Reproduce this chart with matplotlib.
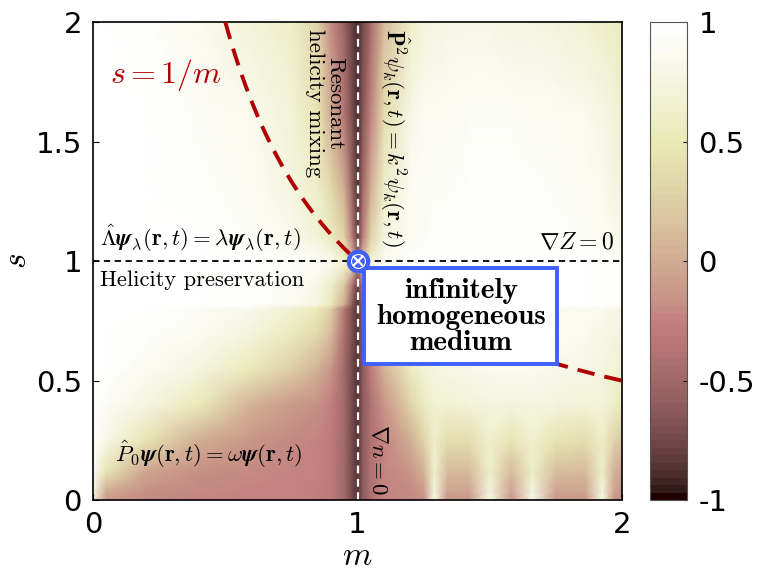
import numpy as np
import matplotlib
matplotlib.use("Agg")
import matplotlib.pyplot as plt

plt.rcParams['mathtext.fontset'] = 'cm'
plt.rcParams['font.family'] = 'DejaVu Sans'

# sample nodes of the map (m across, s up)
m_nodes = [0, 0.05, 0.2, 0.4, 0.6, 0.75, 0.85, 0.9, 0.95, 0.98, 1.0, 1.02, 1.05,
           1.1, 1.2, 1.25, 1.29, 1.34, 1.42, 1.5, 1.58, 1.66, 1.75, 1.86, 1.925, 1.97, 2.0]
s_nodes = [0, 0.04, 0.12, 0.25, 0.4, 0.55, 0.7, 0.8, 0.82, 0.9, 0.97, 1.0, 1.03,
           1.1, 1.3, 1.6, 2.0]

# normalised value at each (s, m) node, one row per s
values = [
    [0.6, -0.1, -0.2, -0.22, -0.25, -0.25, -0.28, -0.3, -0.5, -0.72, -0.85, -0.62, -0.4, -0.25, -0.2, -0.18, 0.8, -0.15, -0.15, 0.8, -0.15, 0.8, -0.15, -0.15, 0.8, -0.15, -0.2],
    [0.8, 0.0, -0.18, -0.2, -0.22, -0.25, -0.28, -0.3, -0.5, -0.72, -0.85, -0.62, -0.4, -0.25, -0.2, -0.1, 0.72, -0.05, -0.05, 0.72, -0.05, 0.72, -0.05, -0.05, 0.72, -0.05, -0.15],
    [0.92, 0.45, -0.05, -0.18, -0.2, -0.22, -0.25, -0.3, -0.5, -0.72, -0.85, -0.62, -0.4, -0.25, -0.15, 0.05, 0.65, 0.1, 0.12, 0.65, 0.12, 0.62, 0.15, 0.1, 0.6, 0.05, -0.05],
    [0.97, 0.8, 0.45, 0.0, -0.15, -0.2, -0.22, -0.3, -0.5, -0.72, -0.85, -0.62, -0.4, -0.25, 0.0, 0.3, 0.62, 0.4, 0.4, 0.65, 0.45, 0.65, 0.45, 0.4, 0.6, 0.3, 0.2],
    [0.99, 0.92, 0.75, 0.5, 0.05, -0.1, -0.18, -0.28, -0.5, -0.72, -0.85, -0.62, -0.38, -0.15, 0.3, 0.55, 0.68, 0.68, 0.7, 0.75, 0.72, 0.75, 0.72, 0.7, 0.7, 0.6, 0.5],
    [1.0, 0.97, 0.9, 0.75, 0.5, 0.25, 0.05, -0.15, -0.48, -0.72, -0.85, -0.6, -0.3, 0.05, 0.55, 0.7, 0.78, 0.8, 0.83, 0.85, 0.85, 0.85, 0.83, 0.8, 0.75, 0.7, 0.65],
    [1.0, 0.99, 0.96, 0.88, 0.72, 0.55, 0.35, 0.1, -0.42, -0.7, -0.85, -0.58, -0.2, 0.35, 0.75, 0.82, 0.85, 0.87, 0.88, 0.88, 0.88, 0.88, 0.88, 0.85, 0.8, 0.75, 0.72],
    [1.0, 1.0, 0.98, 0.93, 0.82, 0.68, 0.5, 0.25, -0.35, -0.7, -0.85, -0.55, -0.1, 0.5, 0.82, 0.86, 0.88, 0.9, 0.9, 0.9, 0.9, 0.9, 0.9, 0.88, 0.85, 0.8, 0.78],
    [1.0, 1.0, 0.99, 0.98, 0.96, 0.9, 0.75, 0.5, 0.0, -0.6, -0.85, -0.5, 0.2, 0.8, 0.95, 0.97, 0.97, 0.97, 0.97, 0.97, 0.97, 0.97, 0.97, 0.97, 0.96, 0.95, 0.94],
    [1.0, 1.0, 0.99, 0.98, 0.96, 0.92, 0.8, 0.6, 0.2, -0.4, -0.8, -0.3, 0.4, 0.85, 0.95, 0.97, 0.97, 0.97, 0.97, 0.97, 0.97, 0.97, 0.97, 0.97, 0.96, 0.95, 0.94],
    [1.0, 1.0, 0.99, 0.98, 0.97, 0.95, 0.9, 0.8, 0.6, 0.2, -0.5, 0.2, 0.7, 0.9, 0.96, 0.97, 0.97, 0.97, 0.97, 0.97, 0.97, 0.97, 0.97, 0.97, 0.96, 0.95, 0.94],
    [1.0, 1.0, 0.99, 0.98, 0.97, 0.95, 0.9, 0.85, 0.7, 0.4, 0.0, 0.4, 0.75, 0.9, 0.96, 0.97, 0.97, 0.97, 0.97, 0.97, 0.97, 0.97, 0.97, 0.97, 0.96, 0.95, 0.94],
    [1.0, 1.0, 0.99, 0.98, 0.96, 0.92, 0.85, 0.75, 0.5, 0.0, -0.6, 0.0, 0.55, 0.85, 0.95, 0.96, 0.96, 0.96, 0.96, 0.96, 0.96, 0.96, 0.96, 0.95, 0.94, 0.93, 0.9],
    [1.0, 1.0, 0.99, 0.97, 0.93, 0.85, 0.7, 0.55, 0.3, -0.3, -0.8, -0.3, 0.3, 0.75, 0.9, 0.93, 0.94, 0.94, 0.94, 0.94, 0.94, 0.94, 0.94, 0.93, 0.9, 0.85, 0.8],
    [1.0, 1.0, 0.99, 0.96, 0.9, 0.78, 0.6, 0.35, 0.0, -0.55, -0.85, -0.5, 0.0, 0.6, 0.88, 0.92, 0.93, 0.93, 0.94, 0.94, 0.94, 0.94, 0.93, 0.9, 0.85, 0.78, 0.72],
    [1.0, 1.0, 0.98, 0.93, 0.85, 0.7, 0.45, 0.0, -0.35, -0.7, -0.9, -0.65, -0.25, 0.4, 0.8, 0.88, 0.9, 0.9, 0.92, 0.92, 0.92, 0.9, 0.88, 0.85, 0.8, 0.72, 0.65],
    [1.0, 0.98, 0.95, 0.85, 0.7, 0.6, 0.3, -0.2, -0.55, -0.8, -0.9, -0.75, -0.45, 0.1, 0.6, 0.72, 0.78, 0.8, 0.8, 0.8, 0.78, 0.75, 0.72, 0.68, 0.62, 0.58, 0.55],
]

x_ticks = [0, 1, 2]
y_ticks = [0, 0.5, 1, 1.5, 2]
y_ticklabels = ['0', '0.5', '1', '1.5', '2']
cbar_ticks = [-1, -0.5, 0, 0.5, 1]
cbar_ticklabels = ['-1', '-0.5', '0', '0.5', '1']

blue = '#3f5fff'
red = '#b00000'

fig = plt.figure(figsize=(7.69, 5.83), dpi=100)
ax = fig.add_axes([0.121, 0.142, 0.688, 0.820])
cax = fig.add_axes([0.845, 0.142, 0.049, 0.820])

M, S = np.meshgrid(m_nodes, s_nodes)
Z = np.array(values)
mesh = ax.pcolormesh(M, S, Z, shading='gouraud', cmap=plt.get_cmap('pink', 64),
                     vmin=-1, vmax=1, zorder=0)

# reference lines
ax.axhline(1, color='black', lw=1.3, dashes=(3.5, 2.5), zorder=2)
ax.axvline(1, color='white', lw=1.6, dashes=(3.5, 2.5), zorder=2)

m_curve = np.linspace(0.5, 2, 300)
ax.plot(m_curve, 1 / m_curve, color=red, lw=2.8, dashes=(4.5, 2.6), zorder=3)

# circled cross at the homogeneous point
ax.plot(1, 1, 'o', ms=16, mfc=blue, mec=blue, zorder=6, clip_on=False)
ax.plot(1, 1, 'o', ms=10, mfc='none', mec='white', mew=0.8, zorder=7, clip_on=False)
ax.plot(1, 1, 'x', ms=7, mew=1.6, color='white', zorder=7, clip_on=False)

ax.set_xlim(0, 2)
ax.set_ylim(0, 2)
ax.set_xticks(x_ticks)
ax.set_xticklabels([str(t) for t in x_ticks])
ax.set_yticks(y_ticks)
ax.set_yticklabels(y_ticklabels)
ax.tick_params(direction='in', length=4, labelsize=21, pad=8, color='black')
for sp in ax.spines.values():
    sp.set_linewidth(1.2)

ax.set_xlabel('$m$', fontsize=24, labelpad=0)
ax.set_ylabel('$s$', fontsize=24)
ax.yaxis.set_label_coords(-0.113, 0.5)

# annotations
ax.text(0.065, 1.78, '$s = 1/m$', color=red, fontsize=23, va='center', ha='left')
ax.text(0.878, 1.97, 'Resonant\nhelicity mixing', family='cmr10', fontsize=16.5,
        rotation=-90, ha='center', va='top', linespacing=1.05)
ax.text(1.14, 1.97, r'$\hat{\mathbf{P}}^2\psi_k(\mathbf{r},t) = k^2\psi_k(\mathbf{r},t)$',
        fontsize=16.5, rotation=-90, ha='center', va='top')
ax.text(1.08, 0.02, r'$\nabla n = 0$', fontsize=16.5, rotation=-90,
        ha='center', va='bottom')
ax.text(0.025, 1.03, r'$\hat{\Lambda}\boldsymbol{\psi}_\lambda(\mathbf{r},t) = \lambda\boldsymbol{\psi}_\lambda(\mathbf{r},t)$',
        fontsize=16.5, ha='left', va='bottom')
ax.text(0.025, 0.92, 'Helicity preservation', family='cmr10', fontsize=16.2,
        ha='left', va='center')
ax.text(1.97, 1.03, r'$\nabla Z = 0$', fontsize=17, ha='right', va='bottom')
ax.text(0.083, 0.19, r'$\hat{P}_0\boldsymbol{\psi}(\mathbf{r},t) = \omega\boldsymbol{\psi}(\mathbf{r},t)$',
        fontsize=16.5, ha='left', va='center')

box = plt.Rectangle((1.025, 0.57), 0.73, 0.40, facecolor='white', edgecolor=blue,
                    lw=2.8, zorder=4)
ax.add_patch(box)
ax.text(1.39, 0.765, 'infinitely\nhomogeneous\nmedium', family='cmb10', fontsize=21,
        ha='center', va='center', linespacing=1.0, zorder=5)

cb = fig.colorbar(mesh, cax=cax, ticks=cbar_ticks)
cb.ax.set_yticklabels(cbar_ticklabels)
cb.ax.tick_params(labelsize=21, length=3, direction='in', pad=8)
cb.outline.set_edgecolor('#555555')
cb.outline.set_linewidth(0.8)

fig.savefig('out.png', dpi=100)
